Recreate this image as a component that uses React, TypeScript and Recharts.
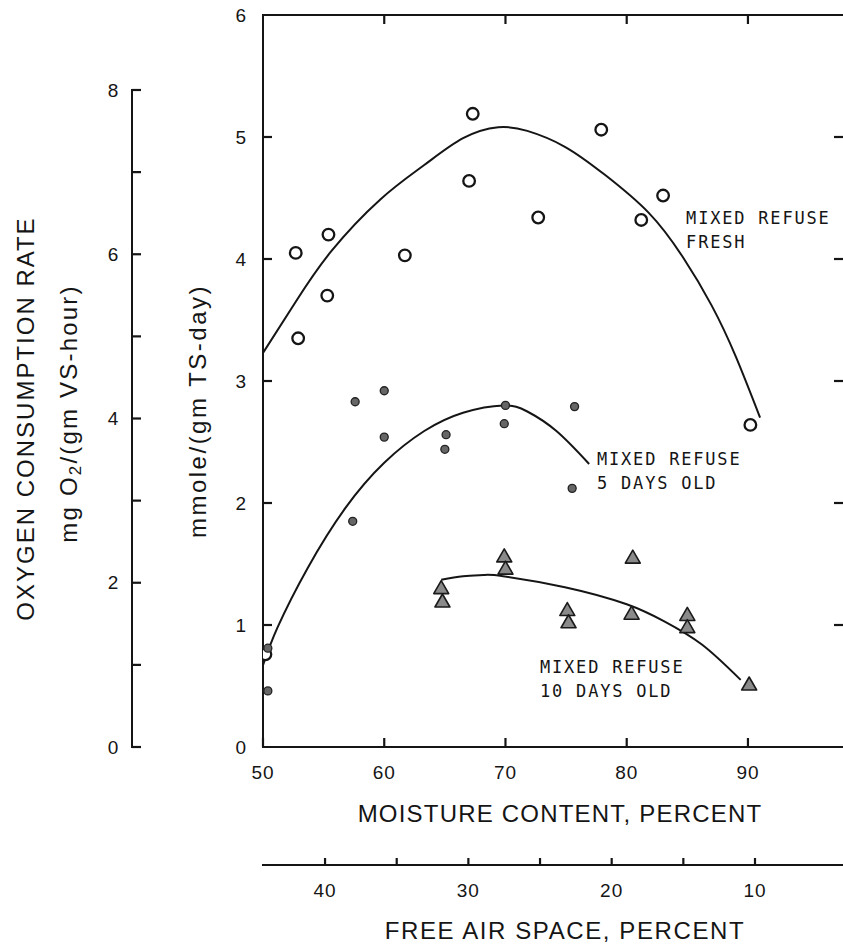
import React from 'react';
import { ComposedChart, Scatter, Line, XAxis, YAxis, ReferenceDot } from 'recharts';

// ---------- data ----------
const moistureTicks = [50, 60, 70, 80, 90];
const topTicks = [60, 70, 80, 90];
const mmoleTicks = [0, 1, 2, 3, 4, 5, 6];
const innerMmoleTicks = [1, 2, 3, 4, 5];
const mgTicks = [0, 1, 2, 3, 4, 5, 6, 7, 8];
const mgLabels = [0, 2, 4, 6, 8];
const fasTicks = [10, 15, 20, 25, 30, 35, 40];
const fasLabels = [10, 20, 30, 40];
const moistureDomain = [50, 97.84];
const fasDomain = [3.86, 44.33];

const freshPoints = [
  { x: 52.7, y: 4.05 },
  { x: 52.9, y: 3.35 },
  { x: 55.4, y: 4.2 },
  { x: 55.3, y: 3.7 },
  { x: 61.7, y: 4.03 },
  { x: 67.0, y: 4.64 },
  { x: 67.3, y: 5.19 },
  { x: 72.7, y: 4.34 },
  { x: 77.9, y: 5.06 },
  { x: 81.2, y: 4.32 },
  { x: 83.0, y: 4.52 },
  { x: 90.2, y: 2.64 },
  { x: 50.2, y: 0.76 },
];

const fiveDayPoints = [
  { x: 57.6, y: 2.83 },
  { x: 60.0, y: 2.92 },
  { x: 60.0, y: 2.54 },
  { x: 57.4, y: 1.85 },
  { x: 65.1, y: 2.56 },
  { x: 65.0, y: 2.44 },
  { x: 70.0, y: 2.8 },
  { x: 69.9, y: 2.65 },
  { x: 75.7, y: 2.79 },
  { x: 75.5, y: 2.12 },
  { x: 50.4, y: 0.81 },
  { x: 50.4, y: 0.46 },
];

const tenDayPoints = [
  { x: 64.7, y: 1.3 },
  { x: 64.8, y: 1.19 },
  { x: 69.9, y: 1.56 },
  { x: 70.0, y: 1.46 },
  { x: 80.5, y: 1.55 },
  { x: 80.4, y: 1.09 },
  { x: 75.1, y: 1.12 },
  { x: 75.2, y: 1.02 },
  { x: 85.0, y: 1.08 },
  { x: 85.0, y: 0.98 },
  { x: 90.1, y: 0.51 },
];

const freshCurve = [
  { x: 50.0, y: 3.23 },
  { x: 52.7, y: 3.65 },
  { x: 55.6, y: 4.06 },
  { x: 59.7, y: 4.49 },
  { x: 63.3, y: 4.77 },
  { x: 66.5, y: 4.99 },
  { x: 69.4, y: 5.08 },
  { x: 71.8, y: 5.05 },
  { x: 74.9, y: 4.92 },
  { x: 78.2, y: 4.69 },
  { x: 81.8, y: 4.38 },
  { x: 84.6, y: 4.02 },
  { x: 87.0, y: 3.62 },
  { x: 89.0, y: 3.2 },
  { x: 91.0, y: 2.7 },
];

const fiveDayCurve = [
  { x: 50.0, y: 0.67 },
  { x: 51.2, y: 0.98 },
  { x: 53.7, y: 1.47 },
  { x: 56.8, y: 1.96 },
  { x: 60.0, y: 2.33 },
  { x: 63.3, y: 2.59 },
  { x: 66.5, y: 2.74 },
  { x: 69.8, y: 2.8 },
  { x: 71.8, y: 2.75 },
  { x: 74.2, y: 2.59 },
  { x: 76.9, y: 2.32 },
];

const tenDayCurve = [
  { x: 64.7, y: 1.37 },
  { x: 66.5, y: 1.4 },
  { x: 68.2, y: 1.41 },
  { x: 69.8, y: 1.4 },
  { x: 74.9, y: 1.31 },
  { x: 80.0, y: 1.17 },
  { x: 83.1, y: 1.03 },
  { x: 86.2, y: 0.84 },
  { x: 89.4, y: 0.55 },
];

const curveLabels = [
  { x: 84.9, y: 4.34, lines: ['MIXED REFUSE', 'FRESH'] },
  { x: 77.55, y: 2.36, lines: ['MIXED REFUSE', '5 DAYS OLD'] },
  { x: 72.85, y: 0.656, lines: ['MIXED REFUSE', '10 DAYS OLD'] },
];

// helper (invisible) series so that the secondary axes get their scales
const topRightAnchors = [
  { x: 50, y: 0 },
  { x: 90, y: 6 },
];
const fasAnchors = fasTicks.map((v) => ({ x: v, y: 0 }));
const mgAnchors = mgTicks.map((v) => ({ x: 0.5, y: v }));
// inward tick marks of the left / right frame edges, placed on the axis values
const leftFrameTicks = innerMmoleTicks.map((v) => ({ x: moistureDomain[0], y: v }));
const rightFrameTicks = innerMmoleTicks.map((v) => ({ x: moistureDomain[1], y: v }));

// ---------- styles ----------
const INK = '#151515';
const NUM_FONT = "'Liberation Sans', Arial, Helvetica, sans-serif";
const NOTE_FONT = "'DejaVu Sans Mono', monospace";
const axisLineStyle = { stroke: INK, strokeWidth: 2, strokeLinecap: 'square' as const };
const TICK = 9;

// ---------- ticks: inward mark + outside label ----------
const BottomTick = (props: any) => {
  const { x, y, payload } = props;
  return (
    <g>
      <path d={`M${x},${y}V${y - TICK}`} stroke={INK} strokeWidth={2.2} fill="none" />
      <text x={x} y={y + 25} textAnchor="middle" dominantBaseline="central" fontFamily={NUM_FONT} fontSize={19} letterSpacing={1} fill={INK}>
        {payload.value}
      </text>
    </g>
  );
};

const TopTick = (props: any) => {
  const { x, y } = props;
  return <path d={`M${x},${y}V${y + TICK}`} stroke={INK} strokeWidth={2.2} fill="none" />;
};

const LeftTick = (props: any) => {
  const { x, y, payload } = props;
  return (
    <text x={x - 17} y={y} textAnchor="end" dominantBaseline="central" fontFamily={NUM_FONT} fontSize={19} fill={INK}>
      {payload.value}
    </text>
  );
};

const MgTick = (props: any) => {
  const { x, y, payload } = props;
  const v = payload.value;
  return (
    <g>
      <path d={`M${x},${y}H${x + TICK}`} stroke={INK} strokeWidth={2.2} fill="none" />
      {mgLabels.includes(v) && (
        <text x={x - 19} y={y} textAnchor="middle" dominantBaseline="central" fontFamily={NUM_FONT} fontSize={19} fill={INK}>
          {v}
        </text>
      )}
    </g>
  );
};

const FasTick = (props: any) => {
  const { x, y, payload } = props;
  const v = payload.value;
  return (
    <g>
      <path d={`M${x},${y}V${y - 7}`} stroke={INK} strokeWidth={2.2} fill="none" />
      {fasLabels.includes(v) && (
        <text x={x} y={y + 25} textAnchor="middle" dominantBaseline="central" fontFamily={NUM_FONT} fontSize={19} letterSpacing={1} fill={INK}>
          {v}
        </text>
      )}
    </g>
  );
};

const NoLabel = () => <g />;

// frame tick marks drawn as a scatter shape (pointing into the plot)
const LeftFrameMark = (p: any) => <path d={`M${p.cx},${p.cy}H${p.cx + TICK}`} stroke={INK} strokeWidth={2.2} fill="none" />;
const RightFrameMark = (p: any) => <path d={`M${p.cx},${p.cy}H${p.cx - TICK}`} stroke={INK} strokeWidth={2.2} fill="none" />;

// ---------- titles ----------
const MoistureTitle = (props: any) => {
  const vb = props.viewBox;
  return (
    <text x={vb.x + vb.width / 2 + 7} y={vb.y + 66} textAnchor="middle" dominantBaseline="central" fontFamily={NUM_FONT} fontSize={24} letterSpacing={1.2} fill={INK}>
      MOISTURE CONTENT, PERCENT
    </text>
  );
};

const FasTitle = (props: any) => {
  const vb = props.viewBox;
  return (
    <text x={vb.x + vb.width / 2 + 12} y={vb.y + 65} textAnchor="middle" dominantBaseline="central" fontFamily={NUM_FONT} fontSize={24} letterSpacing={1.6} fill={INK}>
      FREE AIR SPACE, PERCENT
    </text>
  );
};

const MmoleTitle = (props: any) => {
  const vb = props.viewBox;
  const cx = vb.x + 197;
  const cy = vb.y + vb.height / 2 + 30;
  return (
    <text x={cx} y={cy} transform={`rotate(-90 ${cx} ${cy})`} textAnchor="middle" dominantBaseline="central" fontFamily={NUM_FONT} fontSize={24} letterSpacing={2.5} fill={INK}>
      mmole/(gm TS-day)
    </text>
  );
};

const MgTitles = (props: any) => {
  const vb = props.viewBox;
  const cy = vb.y + vb.height / 2;
  const c1 = 25;
  const c2 = 68;
  return (
    <g>
      <text x={c1} y={cy} transform={`rotate(-90 ${c1} ${cy})`} textAnchor="middle" dominantBaseline="central" fontFamily={NUM_FONT} fontSize={24} letterSpacing={2} fill={INK}>
        OXYGEN CONSUMPTION RATE
      </text>
      <text x={c2} y={cy - 5} transform={`rotate(-90 ${c2} ${cy - 5})`} textAnchor="middle" dominantBaseline="central" fontFamily={NUM_FONT} fontSize={24} letterSpacing={2.2} fill={INK}>
        mg O<tspan dy={7} fontSize={17}>2</tspan>
        <tspan dy={-7}>/(gm VS-hour)</tspan>
      </text>
    </g>
  );
};

const CurveNote = (props: any) => {
  const { viewBox, lines } = props;
  const cx = viewBox.x + viewBox.width / 2;
  const cy = viewBox.y + viewBox.height / 2;
  return (
    <text x={cx} y={cy} dominantBaseline="central" fontFamily={NOTE_FONT} fontSize={17} letterSpacing={1.8} fill={INK}>
      {lines.map((l: string, i: number) => (
        <tspan key={i} x={cx} dy={i === 0 ? 0 : 24}>
          {l}
        </tspan>
      ))}
    </text>
  );
};

// ---------- markers ----------
const OpenCircle = (p: any) => <circle cx={p.cx} cy={p.cy} r={5.8} fill="#fff" stroke={INK} strokeWidth={2.3} />;
const SmallDot = (p: any) => <circle cx={p.cx} cy={p.cy} r={4} fill="#666" stroke="#222" strokeWidth={1.3} />;
const Triangle = (p: any) => {
  const { cx, cy } = p;
  const w = 7.5;
  const h = 13;
  return (
    <polygon
      points={`${cx},${cy - h * 0.6} ${cx + w},${cy + h * 0.4} ${cx - w},${cy + h * 0.4}`}
      fill="#8a8a8a"
      stroke="#1a1a1a"
      strokeWidth={1.6}
      strokeLinejoin="round"
    />
  );
};
const Nothing = () => <g />;

export default function App() {
  return (
    <div style={{ position: 'absolute', left: 0, top: 0, width: 843, height: 944, background: '#fff', overflow: 'hidden' }}>
      <div style={{ position: 'absolute', left: 0, top: 0 }}>
        <ComposedChart width={843} height={944} margin={{ top: 14, right: 0, bottom: 0, left: 0 }}>
          <XAxis
            xAxisId="z_fas"
            dataKey="x"
            type="number"
            domain={fasDomain}
            reversed
            ticks={fasTicks}
            interval={0}
            allowDataOverflow
            orientation="bottom"
            height={79}
            axisLine={axisLineStyle}
            tickLine={false}
            tickSize={0}
            tickMargin={0}
            tick={<FasTick />}
            label={{ value: 'FREE AIR SPACE, PERCENT', content: (p: any) => <FasTitle {...p} /> }}
          />
          <XAxis
            xAxisId="a_main"
            dataKey="x"
            type="number"
            domain={moistureDomain}
            ticks={moistureTicks}
            interval={0}
            allowDataOverflow
            orientation="bottom"
            height={118}
            axisLine={axisLineStyle}
            tickLine={false}
            tickSize={0}
            tickMargin={0}
            tick={<BottomTick />}
            label={{ value: 'MOISTURE CONTENT, PERCENT', content: (p: any) => <MoistureTitle {...p} /> }}
          />
          <XAxis
            xAxisId="t"
            dataKey="x"
            type="number"
            domain={moistureDomain}
            ticks={topTicks}
            interval={0}
            allowDataOverflow
            orientation="top"
            height={1}
            axisLine={axisLineStyle}
            tickLine={false}
            tickSize={0}
            tickMargin={0}
            tick={<TopTick />}
          />
          <YAxis
            yAxisId="l"
            dataKey="y"
            type="number"
            domain={[0, 6]}
            ticks={mmoleTicks}
            interval={0}
            allowDataOverflow
            width={263}
            axisLine={axisLineStyle}
            tickLine={false}
            tickSize={0}
            tickMargin={0}
            tick={<LeftTick />}
            label={{ value: 'mmole/(gm TS-day)', content: (p: any) => <MmoleTitle {...p} /> }}
          />
          <YAxis
            yAxisId="r"
            dataKey="y"
            type="number"
            orientation="right"
            domain={[0, 6]}
            ticks={mmoleTicks}
            interval={0}
            allowDataOverflow
            width={0}
            axisLine={false}
            tickLine={false}
            tickSize={0}
            tickMargin={0}
            tick={<NoLabel />}
          />
          <Scatter data={topRightAnchors} dataKey="y" xAxisId="t" yAxisId="r" shape={Nothing} isAnimationActive={false} />
          <Scatter data={fasAnchors} dataKey="y" xAxisId="z_fas" yAxisId="l" shape={Nothing} isAnimationActive={false} />
          <Scatter data={leftFrameTicks} dataKey="y" xAxisId="a_main" yAxisId="l" shape={LeftFrameMark} isAnimationActive={false} />
          <Scatter data={rightFrameTicks} dataKey="y" xAxisId="a_main" yAxisId="l" shape={RightFrameMark} isAnimationActive={false} />
          <Line data={freshCurve} dataKey="y" xAxisId="a_main" yAxisId="l" type="natural" stroke={INK} strokeWidth={2} dot={false} activeDot={false} isAnimationActive={false} />
          <Line data={fiveDayCurve} dataKey="y" xAxisId="a_main" yAxisId="l" type="natural" stroke={INK} strokeWidth={2} dot={false} activeDot={false} isAnimationActive={false} />
          <Line data={tenDayCurve} dataKey="y" xAxisId="a_main" yAxisId="l" type="natural" stroke={INK} strokeWidth={2} dot={false} activeDot={false} isAnimationActive={false} />
          <Scatter data={freshPoints} dataKey="y" xAxisId="a_main" yAxisId="l" shape={OpenCircle} isAnimationActive={false} />
          <Scatter data={fiveDayPoints} dataKey="y" xAxisId="a_main" yAxisId="l" shape={SmallDot} isAnimationActive={false} />
          <Scatter data={tenDayPoints} dataKey="y" xAxisId="a_main" yAxisId="l" shape={Triangle} isAnimationActive={false} />
          {curveLabels.map((c, i) => (
            <ReferenceDot
              key={i}
              x={c.x}
              y={c.y}
              xAxisId="a_main"
              yAxisId="l"
              r={0}
              fill="none"
              stroke="none"
              ifOverflow="visible"
              label={(p: any) => <CurveNote {...p} lines={c.lines} />}
            />
          ))}
        </ComposedChart>
      </div>
      <div style={{ position: 'absolute', left: 0, top: 0, pointerEvents: 'none' }}>
        <ComposedChart width={200} height={944} margin={{ top: 90, right: 0, bottom: 197, left: 0 }}>
          <XAxis xAxisId="h" dataKey="x" type="number" domain={[0, 1]} hide />
          <YAxis
            yAxisId="mg"
            dataKey="y"
            type="number"
            domain={[0, 8]}
            ticks={mgTicks}
            interval={0}
            allowDataOverflow
            width={132}
            axisLine={axisLineStyle}
            tickLine={false}
            tickSize={0}
            tickMargin={0}
            tick={<MgTick />}
            label={{ value: 'OXYGEN CONSUMPTION RATE', content: (p: any) => <MgTitles {...p} /> }}
          />
          <Scatter data={mgAnchors} dataKey="y" xAxisId="h" yAxisId="mg" shape={Nothing} isAnimationActive={false} />
        </ComposedChart>
      </div>
    </div>
  );
}
